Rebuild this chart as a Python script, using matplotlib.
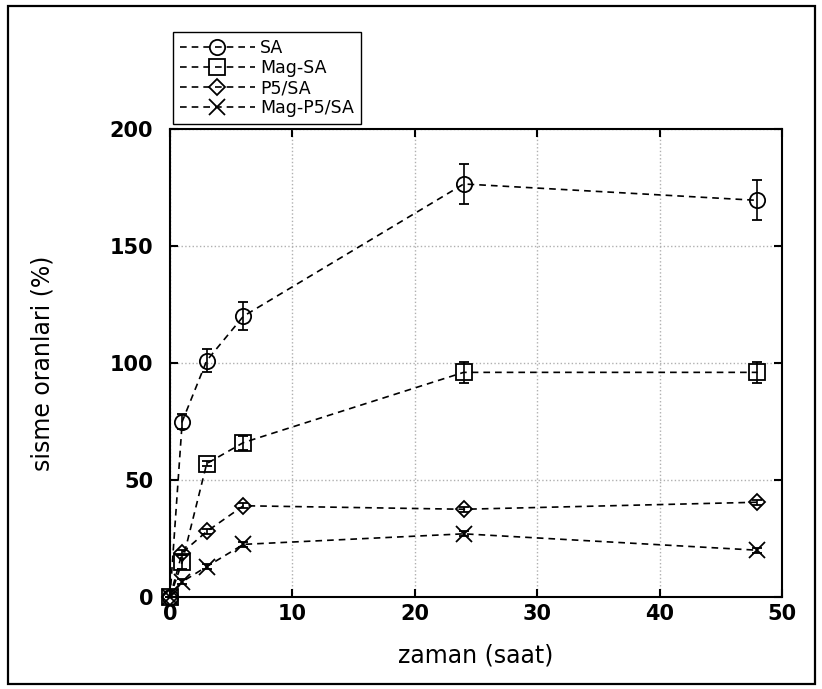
import matplotlib
matplotlib.use("Agg")
import matplotlib.pyplot as plt
from matplotlib.patches import Rectangle

# zaman (saat)
t = [0, 1, 3, 6, 24, 48]

sa = [0, 75, 101, 120, 176.5, 169.5]
sa_err = [0, 3, 5, 6, 8.5, 8.5]

mag_sa = [0, 15, 57, 66, 96, 96]
mag_sa_err = [0, 3, 1, 3, 4.5, 4.5]

p5_sa = [0, 19, 28, 39, 37.5, 40.5]
p5_sa_err = [0, 1, 1, 1, 1, 1]

mag_p5_sa = [0, 6.5, 13, 22.5, 27, 20]
mag_p5_sa_err = [0, 1, 1, 1, 1, 1]

series = [
    ("SA", sa, sa_err, "o", 11),
    ("Mag-SA", mag_sa, mag_sa_err, "s", 11),
    ("P5/SA", p5_sa, p5_sa_err, "D", 8.5),
    ("Mag-P5/SA", mag_p5_sa, mag_p5_sa_err, "x", 11),
]

xticks = [0, 10, 20, 30, 40, 50]
yticks = [0, 50, 100, 150, 200]

fig = plt.figure(figsize=(8.22, 6.89), dpi=100)
ax = fig.add_axes([0.2068, 0.1335, 0.7445, 0.6793])

handles = []
for name, y, err, mk, ms in series:
    eb = ax.errorbar(t, y, yerr=err, color="black", ls=(0, (4, 3)), lw=1.2,
                     marker=mk, ms=ms, mfc="none", mec="black", mew=1.3,
                     ecolor="black", elinewidth=1.2, capsize=3.5, capthick=1.2,
                     label=name, clip_on=False, zorder=3)
    for art in eb.lines[1] + eb.lines[2]:
        art.set_clip_on(False)
    handles.append(eb.lines[0])

ax.set_xlim(0, 50)
ax.set_ylim(0, 200)
ax.set_xticks(xticks)
ax.set_yticks(yticks)
ax.grid(True, ls=":", color="#b0b0b0", lw=1.0)
ax.tick_params(direction="in", length=6, width=1.5, top=True, right=True,
               labelsize=15)
ax.tick_params(axis="y", pad=12)
ax.tick_params(axis="x", pad=5)
for lab in ax.get_xticklabels() + ax.get_yticklabels():
    lab.set_fontweight("bold")
for sp in ax.spines.values():
    sp.set_linewidth(1.5)

ax.set_xlabel("zaman (saat)", fontsize=17, labelpad=14)
ax.set_ylabel("sisme oranlari (%)", fontsize=17, labelpad=40)

leg = fig.legend(handles=handles, labels=[s[0] for s in series],
                 loc="upper left", bbox_to_anchor=(0.2105, 0.9536),
                 fontsize=12.5, handlelength=4.3, labelspacing=0.12,
                 borderpad=0.4, handletextpad=0.3, borderaxespad=0,
                 fancybox=False, framealpha=1, edgecolor="black")
leg.get_frame().set_linewidth(1.0)

fig.patches.append(Rectangle((0.0097, 0.0073), 0.9818, 0.984,
                             transform=fig.transFigure, fill=False,
                             edgecolor="black", lw=1.6))

fig.savefig("out.png", dpi=100)
